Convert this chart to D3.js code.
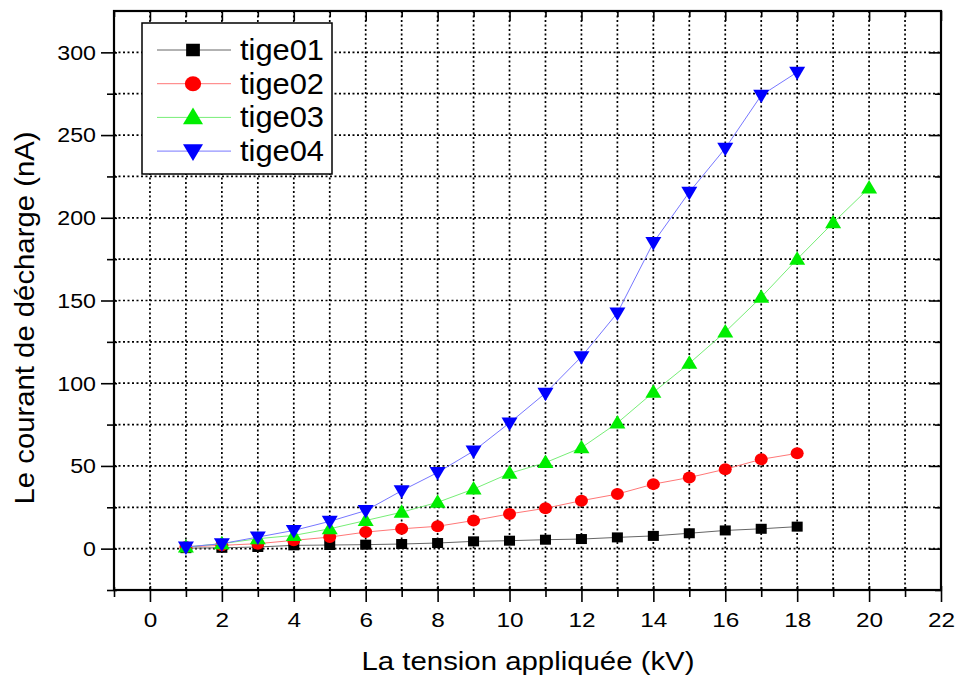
<!DOCTYPE html>
<html>
<head>
<meta charset="utf-8">
<script src="https://cdn.jsdelivr.net/npm/d3@7"></script>
<style>
  body { margin: 0; background: #fff; }
  text { font-family: "Liberation Sans", Arial, sans-serif; fill: #000; }
</style>
</head>
<body>
<svg id="chart" width="959" height="677"></svg>
<script>
// values (nA), tension en kV
var voltage = [1, 2, 3, 4, 5, 6, 7, 8, 9, 10, 11, 12, 13, 14, 15, 16, 17, 18, 19, 20];
var tige01 = [0.3, 0.5, 1, 2, 2.2, 2.4, 2.8, 3.4, 4.4, 4.8, 5.4, 5.8, 6.8, 7.7, 9.3, 11, 12, 13.3];
var tige02 = [1, 2, 3, 5, 7, 10, 12, 13.5, 17, 21, 24.4, 29, 33, 39, 43, 48, 54, 57.6];
var tige03 = [1, 3, 6, 8, 12, 17, 22, 28, 36, 45.5, 52, 61, 76, 94.5, 112, 131, 152, 175, 197, 218];
var tige04 = [1, 3, 7, 11, 16.5, 23, 35, 46, 59, 76, 94, 116, 142.5, 185, 215.5, 242, 274, 288];
var seriesNames = ['tige01', 'tige02', 'tige03', 'tige04'];
var xTicks = [0, 2, 4, 6, 8, 10, 12, 14, 16, 18, 20, 22];
var yTicks = [0, 50, 100, 150, 200, 250, 300];

var series = [
  { name: seriesNames[0], values: tige01, color: '#000', line: '#666', shape: 'square' },
  { name: seriesNames[1], values: tige02, color: '#ff0000', line: '#ff7777', shape: 'circle' },
  { name: seriesNames[2], values: tige03, color: '#00ee00', line: '#77ee77', shape: 'up' },
  { name: seriesNames[3], values: tige04, color: '#0000ff', line: '#7777ff', shape: 'down' }
];

var svg = d3.select('#chart');
var pLeft = 114, pRight = 941, pTop = 11, pBottom = 590;
var stretch = 1.16;

var x = d3.scaleLinear().domain([-1, 22]).range([pLeft, pRight]);
var y = d3.scaleLinear().domain([-25, 325]).range([pBottom, pTop]);

// grid
var grid = svg.append('g').attr('class', 'grid')
  .attr('stroke', '#000').attr('stroke-width', 1.7).attr('stroke-dasharray', '2,2.5');
d3.range(0, 22).forEach(function (v) {
  grid.append('line').attr('x1', x(v)).attr('x2', x(v)).attr('y1', pTop).attr('y2', pBottom);
});
d3.range(0, 325, 25).forEach(function (v) {
  grid.append('line').attr('x1', pLeft).attr('x2', pRight).attr('y1', y(v)).attr('y2', y(v));
});

// axes
var xMinor = d3.range(-1, 22, 2);
var yMinor = d3.range(-25, 325, 50);

var bottomAxis = svg.append('g').attr('transform', 'translate(0,' + pBottom + ')')
  .call(d3.axisBottom(x).tickValues(xTicks).tickSize(12).tickFormat(d3.format('d')));
bottomAxis.selectAll('.tick line').attr('y1', -4).attr('stroke-width', 1.6);
bottomAxis.selectAll('.tick text').attr('y', 37).attr('dy', null)
  .attr('font-size', 21).attr('transform', 'scale(' + stretch + ',1)');
svg.append('g').attr('transform', 'translate(0,' + pBottom + ')')
  .call(d3.axisBottom(x).tickValues(xMinor).tickSize(7).tickFormat(''))
  .selectAll('.tick line').attr('y1', -3).attr('stroke-width', 1.6);

var leftAxis = svg.append('g').attr('transform', 'translate(' + pLeft + ',0)')
  .call(d3.axisLeft(y).tickValues(yTicks).tickSize(13));
leftAxis.selectAll('.tick line').attr('x1', 3).attr('stroke-width', 1.6);
leftAxis.selectAll('.tick text').attr('x', -18 / stretch).attr('dy', '0.34em')
  .attr('font-size', 20).attr('transform', 'scale(' + stretch + ',1)');
svg.append('g').attr('transform', 'translate(' + pLeft + ',0)')
  .call(d3.axisLeft(y).tickValues(yMinor).tickSize(7).tickFormat(''))
  .selectAll('.tick line').attr('x1', 3).attr('stroke-width', 1.6);

svg.append('g').attr('transform', 'translate(0,' + pTop + ')')
  .call(d3.axisTop(x).tickValues(xTicks).tickSize(-10).tickFormat(''))
  .selectAll('.tick line').attr('stroke-width', 1.6);
svg.append('g').attr('transform', 'translate(0,' + pTop + ')')
  .call(d3.axisTop(x).tickValues(xMinor).tickSize(-6).tickFormat(''))
  .selectAll('.tick line').attr('stroke-width', 1.6);
svg.append('g').attr('transform', 'translate(' + pRight + ',0)')
  .call(d3.axisRight(y).tickValues(yTicks).tickSize(-12).tickFormat(''))
  .selectAll('.tick line').attr('stroke-width', 1.6);
svg.append('g').attr('transform', 'translate(' + pRight + ',0)')
  .call(d3.axisRight(y).tickValues(yMinor).tickSize(-6).tickFormat(''))
  .selectAll('.tick line').attr('stroke-width', 1.6);
svg.selectAll('.domain').remove();

svg.append('rect').attr('x', pLeft).attr('y', pTop)
  .attr('width', pRight - pLeft).attr('height', pBottom - pTop)
  .attr('fill', 'none').attr('stroke', '#000').attr('stroke-width', 2.2);

// markers, k scales the size (legend uses bigger ones)
function drawMarker(g, shape, color, cx, cy, k) {
  k = k || 1;
  if (shape === 'square') {
    g.append('rect').attr('x', cx - 5.5 * k).attr('y', cy - 5 * k)
      .attr('width', 11 * k).attr('height', 10 * k).attr('fill', color);
  } else if (shape === 'circle') {
    g.append('ellipse').attr('cx', cx).attr('cy', cy).attr('rx', 6.5 * k).attr('ry', 6 * k).attr('fill', color);
  } else if (shape === 'up') {
    g.append('path').attr('d', 'M' + (cx - 8 * k) + ',' + (cy + 5.5 * k) + 'L' + (cx + 8 * k) + ',' + (cy + 5.5 * k) +
      'L' + cx + ',' + (cy - 8 * k) + 'Z').attr('fill', color);
  } else {
    g.append('path').attr('d', 'M' + (cx - 8 * k) + ',' + (cy - 5.5 * k) + 'L' + (cx + 8 * k) + ',' + (cy - 5.5 * k) +
      'L' + cx + ',' + (cy + 8 * k) + 'Z').attr('fill', color);
  }
}

var line = d3.line()
  .x(function (d, i) { return x(voltage[i]); })
  .y(function (d) { return y(d); });

series.forEach(function (s) {
  var g = svg.append('g').attr('class', 'series');
  g.append('path').datum(s.values).attr('d', line)
    .attr('fill', 'none').attr('stroke', s.line).attr('stroke-width', 1);
  s.values.forEach(function (v, i) {
    drawMarker(g, s.shape, s.color, x(voltage[i]), y(v));
  });
});

// legend
var legend = svg.append('g').attr('class', 'legend');
legend.append('rect').attr('x', 142).attr('y', 23).attr('width', 190).attr('height', 151)
  .attr('fill', '#fff').attr('stroke', '#000').attr('stroke-width', 1.5);
series.forEach(function (s, i) {
  var ly = 50 + i * 33.7;
  legend.append('line').attr('x1', 157).attr('x2', 231).attr('y1', ly).attr('y2', ly)
    .attr('stroke', s.line).attr('stroke-width', 1);
  drawMarker(legend, s.shape, s.color, 193, ly, 1.25);
  legend.append('text').attr('x', 240).attr('y', ly + 10)
    .attr('font-size', 29).attr('textLength', 84).attr('lengthAdjust', 'spacingAndGlyphs')
    .text(s.name);
});

// axis titles
svg.append('text').attr('x', 528).attr('y', 670).attr('text-anchor', 'middle')
  .attr('font-size', 26).attr('textLength', 333).attr('lengthAdjust', 'spacingAndGlyphs')
  .text('La tension appliquée (kV)');
svg.append('text').attr('transform', 'translate(34,318) rotate(-90)').attr('text-anchor', 'middle')
  .attr('font-size', 28).attr('textLength', 373).attr('lengthAdjust', 'spacingAndGlyphs')
  .text('Le courant de décharge (nA)');
</script>
</body>
</html>
